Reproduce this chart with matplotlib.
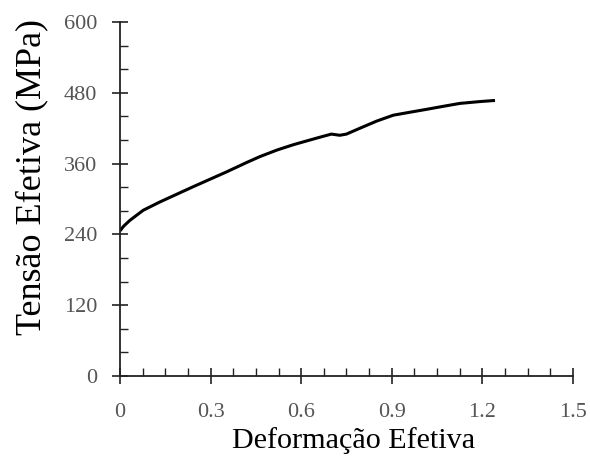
import numpy as np
import matplotlib.pyplot as plt
from matplotlib.ticker import MultipleLocator

# Curve
strain = [0.0, 0.012, 0.033, 0.077, 0.132, 0.243, 0.353, 0.42, 0.464, 0.52, 0.574, 0.65, 0.70, 0.728,
          0.75, 0.795, 0.85, 0.905, 0.96, 1.016, 1.07, 1.126, 1.19, 1.242]
stress = [246, 254, 264, 281, 295, 321, 346, 362, 372, 383, 392, 403, 410, 408,
          410, 420, 432, 442, 447, 452, 457, 462, 465, 467]

x_ticks = [0, 0.3, 0.6, 0.9, 1.2, 1.5]
x_labels = ['0', '0.3', '0.6', '0.9', '1.2', '1.5']
y_ticks = [0, 120, 240, 360, 480, 600]

plt.rcParams['font.family'] = ['Liberation Serif', 'DejaVu Serif']

fig = plt.figure(figsize=(5.9, 4.57), dpi=100)
ax = fig.add_axes([0.2034, 0.177, 0.7676, 0.775])

ax.plot(strain, stress, color='black', linewidth=2.2,
        solid_joinstyle='round', solid_capstyle='butt')

ax.set_xlim(0, 1.5)
ax.set_ylim(0, 600)
ax.set_xticks(x_ticks)
ax.set_xticklabels(x_labels)
ax.set_yticks(y_ticks)
ax.xaxis.set_minor_locator(MultipleLocator(0.075))
ax.yaxis.set_minor_locator(MultipleLocator(40))

for s in ['top', 'right']:
    ax.spines[s].set_visible(False)
for s in ['left', 'bottom']:
    ax.spines[s].set_linewidth(1.3)
    ax.spines[s].set_color('#222222')

ax.tick_params(which='major', direction='inout', length=11, width=1.2,
               color='#222222', labelsize=16, labelcolor='#555555')
ax.tick_params(axis='y', which='major', pad=11)
ax.tick_params(axis='x', which='major', pad=14)
ax.tick_params(which='minor', direction='in', length=6, width=1.0, color='#222222')

ax.set_xlabel('Deformação Efetiva', fontsize=21.7, va='top')
ax.xaxis.set_label_coords(0.5166, -0.145)
ax.set_ylabel('Tensão Efetiva (MPa)', fontsize=26)
ax.yaxis.set_label_coords(-0.159, 0.562)

fig.savefig('out.png', dpi=100)
